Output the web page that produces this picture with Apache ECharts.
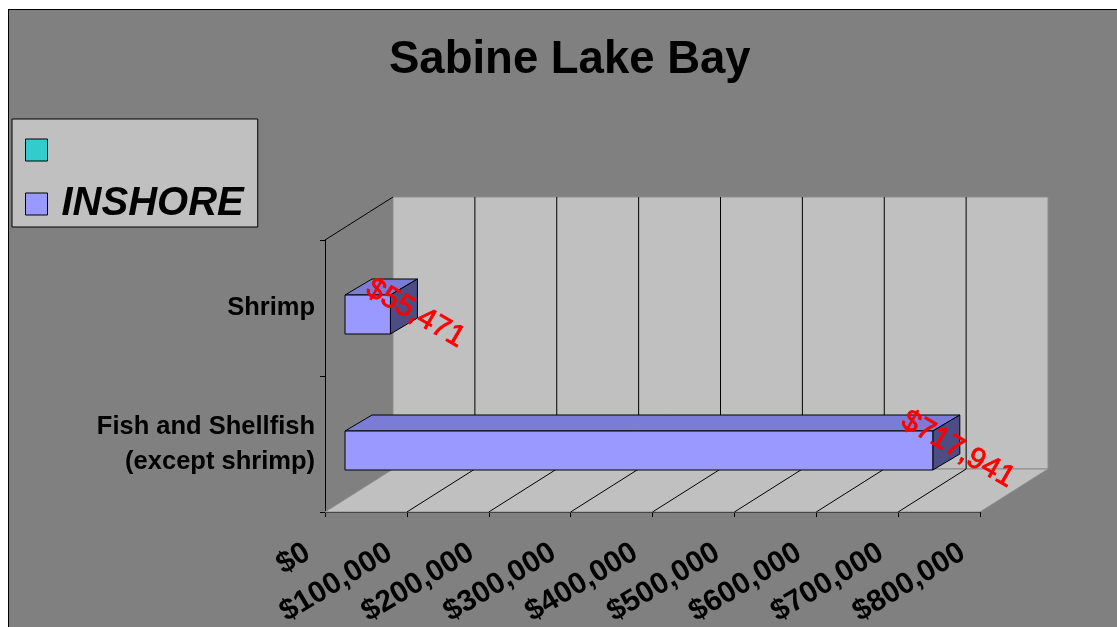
<!DOCTYPE html>
<html>
<head>
<meta charset="utf-8">
<title>Sabine Lake Bay</title>
<script src="https://cdn.jsdelivr.net/npm/echarts@6/dist/echarts.min.js"></script>
<style>
  html, body { margin: 0; padding: 0; background: #fff; overflow: hidden; }
  #frame { position: absolute; left: 8px; top: 9px; width: 1200px; height: 700px;
           background: #808080; border: 1px solid #000; }
  #main { position: absolute; left: 0; top: 0; width: 1117px; height: 627px; }
</style>
</head>
<body>
<div id="frame"></div>
<div id="main"></div>
<script>
// data
const categories = ['Fish and Shellfish\n(except shrimp)', 'Shrimp'];
const inshoreValues = [717941, 55471];
const otherValues = [];          // teal entry in the legend, no bars drawn
const seriesNames = [' ', 'INSHORE'];
const seriesColors = ['#33cccc', '#9999ff'];
const axisMin = 0;
const axisMax = 800000;
const axisStep = 100000;

const FONT = 'Liberation Sans, Arial, sans-serif';
// fake 3d: how far the back wall sits from the front plane
const DEPTH = [68, -43];

const money = v => '$' + Math.round(v).toLocaleString('en-US');

/**
 * back wall, floor and their gridlines
 */
function renderWalls(params, api) {
  const cs = params.coordSys;
  const left = cs.x, top = cs.y, right = cs.x + cs.width, bottom = cs.y + cs.height;
  const dx = DEPTH[0], dy = DEPTH[1];
  const children = [];

  children.push({
    type: 'rect',
    shape: { x: left + dx, y: top + dy, width: cs.width, height: cs.height },
    style: { fill: '#c0c0c0', stroke: '#8c8c8c', lineWidth: 1 }
  });
  children.push({
    type: 'polygon',
    shape: { points: [[left, bottom], [right, bottom], [right + dx, bottom + dy], [left + dx, bottom + dy]] },
    style: { fill: '#c0c0c0', stroke: '#8c8c8c', lineWidth: 1 }
  });

  for (let v = axisMin + axisStep; v < axisMax; v += axisStep) {
    const x = api.coord([v, 0])[0];
    children.push({
      type: 'line',
      shape: { x1: x, y1: bottom, x2: x + dx, y2: bottom + dy },
      style: { stroke: '#000', lineWidth: 1 }
    });
    children.push({
      type: 'line',
      shape: { x1: x + dx, y1: top + dy, x2: x + dx, y2: bottom + dy },
      style: { stroke: '#000', lineWidth: 1 }
    });
  }
  // top edge of the left wall
  children.push({
    type: 'line',
    shape: { x1: left, y1: top, x2: left + dx, y2: top + dy },
    style: { stroke: '#000', lineWidth: 1 }
  });
  return { type: 'group', children };
}

/**
 * one 3d bar with its red value label
 */
function renderBar(params, api) {
  const val = api.value(0);
  const cat = api.value(1);
  const start = api.coord([0, cat]);
  const end = api.coord([val, cat]);
  const x0 = start[0] + 20;
  const x1 = end[0] + 20;
  const top = start[1] - 13;
  const bottom = start[1] + 26;
  const bx = 27, by = -16;
  const color = api.visual('color');

  return {
    type: 'group',
    children: [
      {
        type: 'polygon',
        shape: { points: [[x0, top], [x1, top], [x1 + bx, top + by], [x0 + bx, top + by]] },
        style: { fill: '#7b7bd8', stroke: '#000', lineWidth: 1 }
      },
      {
        type: 'polygon',
        shape: { points: [[x1, top], [x1 + bx, top + by], [x1 + bx, bottom + by], [x1, bottom]] },
        style: { fill: '#4d4d85', stroke: '#000', lineWidth: 1 }
      },
      {
        type: 'rect',
        shape: { x: x0, y: top, width: x1 - x0, height: bottom - top },
        style: { fill: color, stroke: '#000', lineWidth: 1 }
      },
      {
        type: 'text',
        x: x1 + 25,
        y: (top + bottom) / 2 - 1,
        rotation: -Math.PI / 6,
        z2: 10,
        style: {
          text: money(val),
          fill: '#ff0000',
          fontSize: 30,
          fontFamily: FONT,
          align: 'center',
          verticalAlign: 'middle',
          stroke: '#ff0000',
          lineWidth: 0.8
        }
      }
    ]
  };
}

const chart = echarts.init(document.getElementById('main'));

chart.setOption({
  backgroundColor: 'transparent',
  animation: false,
  title: {
    text: 'Sabine Lake Bay',
    left: 389,
    top: 37,
    padding: 0,
    textStyle: { fontFamily: FONT, fontSize: 45.5, fontWeight: 'bold', color: '#000' }
  },
  legend: {
    data: seriesNames,
    orient: 'vertical',
    left: 12,
    top: 119,
    padding: [11, 14, 3, 13],
    itemGap: 14,
    itemWidth: 22,
    itemHeight: 22,
    icon: 'rect',
    backgroundColor: '#c0c0c0',
    borderColor: '#000',
    borderWidth: 1,
    borderRadius: 0,
    selectedMode: false,
    itemStyle: { borderColor: '#000', borderWidth: 1 },
    textStyle: {
      fontFamily: FONT, fontSize: 40, fontWeight: 'bold', fontStyle: 'italic',
      color: '#000', padding: [0, 0, 0, 9]
    }
  },
  grid: {
    left: 325, top: 240, width: 655, height: 272,
    containLabel: false,
    outerBoundsMode: 'none'
  },
  xAxis: {
    type: 'value',
    min: axisMin,
    max: axisMax,
    interval: axisStep,
    position: 'bottom',
    splitLine: { show: false },
    axisLine: { show: true, lineStyle: { color: '#000', width: 1 } },
    axisTick: { show: true, length: 5, lineStyle: { color: '#000' } },
    axisLabel: {
      rotate: 31,
      margin: 28,
      padding: [0, 20, 0, 0],
      formatter: money,
      fontFamily: FONT,
      fontSize: 30,
      fontWeight: 'bold',
      color: '#000'
    }
  },
  yAxis: {
    type: 'category',
    data: categories,
    axisLine: { show: true, lineStyle: { color: '#000', width: 1 } },
    axisTick: { show: true, length: 5, lineStyle: { color: '#000' } },
    splitLine: { show: false },
    axisLabel: {
      margin: 10,
      fontFamily: FONT,
      fontSize: 25.5,
      fontWeight: 'bold',
      lineHeight: 35,
      color: '#000',
      align: 'right'
    }
  },
  series: [
    {
      type: 'custom',
      name: 'walls',
      silent: true,
      z: 1,
      coordinateSystem: 'cartesian2d',
      data: [[axisMin, 0]],
      renderItem: renderWalls
    },
    {
      type: 'custom',
      name: seriesNames[0],
      coordinateSystem: 'cartesian2d',
      itemStyle: { color: seriesColors[0] },
      data: otherValues.map((v, i) => [v, i]),
      renderItem: renderBar
    },
    {
      type: 'custom',
      name: seriesNames[1],
      z: 3,
      coordinateSystem: 'cartesian2d',
      itemStyle: { color: seriesColors[1] },
      data: inshoreValues.map((v, i) => [v, i]),
      renderItem: renderBar
    }
  ]
});
</script>
</body>
</html>
